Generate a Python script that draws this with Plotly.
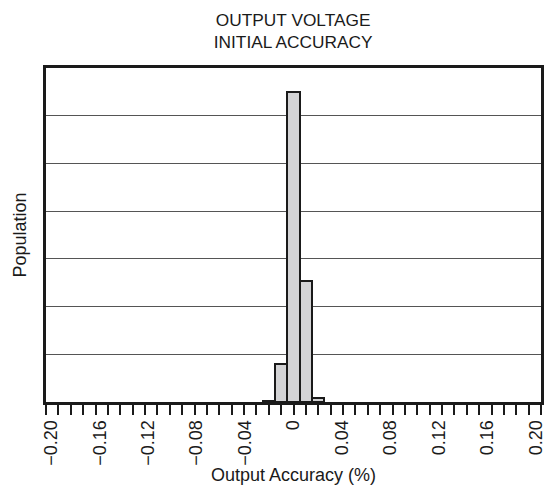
import plotly.graph_objects as go

bin_centers = [-0.02, -0.01, 0.0, 0.01, 0.02]
population = [0.02, 0.80, 6.50, 2.54, 0.08]

tick_vals = [-0.20, -0.16, -0.12, -0.08, -0.04, 0.0, 0.04, 0.08, 0.12, 0.16, 0.20]
tick_text = ["\u22120.20", "\u22120.16", "\u22120.12", "\u22120.08", "\u22120.04", "0",
             "0.04", "0.08", "0.12", "0.16", "0.20"]

font_family = "Liberation Sans, Arial, sans-serif"
ink = "#1a1a1a"

fig = go.Figure()
fig.add_trace(go.Bar(
    x=bin_centers, y=population, width=0.01,
    marker=dict(color="#d3d3d5", line=dict(color=ink, width=2)),
    showlegend=False, hoverinfo="skip",
))
# invisible helper trace so the label axis (slightly inset labels, as in the reference) is drawn
fig.add_trace(go.Scatter(
    x=[0], y=[0], xaxis="x2", mode="markers", marker=dict(opacity=0),
    showlegend=False, hoverinfo="skip",
))

fig.update_layout(
    width=549, height=491,
    margin=dict(l=45.5, r=8, t=67.5, b=89, autoexpand=False),
    paper_bgcolor="white", plot_bgcolor="white",
    font=dict(family=font_family, color=ink, size=18),
    title=dict(text="OUTPUT VOLTAGE<br>INITIAL ACCURACY", x=0.534, xanchor="center",
               y=0.948, yanchor="top", font=dict(size=17.3, color=ink)),
    bargap=0,
    xaxis=dict(
        range=[-0.2, 0.2], tickvals=tick_vals, showticklabels=False,
        ticks="outside", ticklen=10, tickwidth=1.5, tickcolor=ink,
        minor=dict(dtick=0.01, tick0=0, ticks="outside", ticklen=10, tickwidth=1.5,
                   tickcolor=ink, showgrid=False),
        showgrid=False, zeroline=False, automargin=False,
        showline=True, linewidth=2.5, linecolor=ink, mirror=True,
    ),
    xaxis2=dict(
        overlaying="x", anchor="y", side="bottom",
        range=[-0.2044, 0.2044], tickvals=tick_vals, ticktext=tick_text, tickangle=-90,
        ticks="outside", ticklen=10, tickcolor="rgba(0,0,0,0)",
        ticklabeloverflow="allow", showgrid=False, zeroline=False, showline=False,
        automargin=False, tickfont=dict(size=18, color=ink),
    ),
    yaxis=dict(
        range=[0, 7], dtick=1, showticklabels=False, ticks="",
        showgrid=True, gridcolor="#555555", gridwidth=1, zeroline=False, automargin=False,
        showline=True, linewidth=2.5, linecolor=ink, mirror=True,
        title=dict(text="Population", font=dict(size=18, color=ink), standoff=12),
    ),
    annotations=[dict(
        text="Output Accuracy (%)", xref="paper", yref="paper", x=0.5, y=-0.2182,
        xanchor="center", yanchor="middle", showarrow=False,
        font=dict(size=18, color=ink),
    )],
)

fig.write_html("out.html", config={"displayModeBar": False},
               post_script="document.body.style.margin='0px';document.body.style.padding='0px';")
